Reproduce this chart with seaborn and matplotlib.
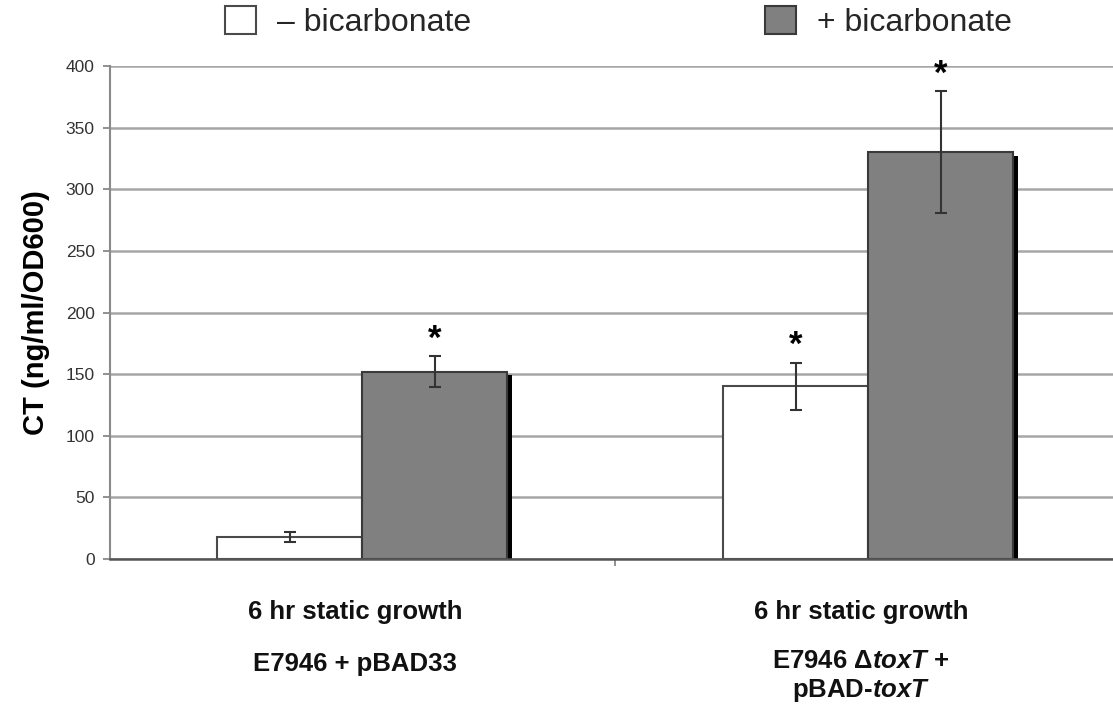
import numpy as np
import pandas as pd
import matplotlib
matplotlib.use("Agg")
import matplotlib.pyplot as plt
from matplotlib.patches import Rectangle, Patch
from matplotlib.transforms import ScaledTranslation, blended_transform_factory
import seaborn as sns

# ---- data -------------------------------------------------------------
strains = ["E7946 + pBAD33", "E7946 dtoxT + pBAD-toxT"]
conditions = ["– bicarbonate", "+ bicarbonate"]
ct_minus = [18, 140]          # CT, no bicarbonate
ct_plus = [152, 330]          # CT, with bicarbonate
err_minus = [4, 19]
err_plus = [12.5, 49.5]
signif_minus = [False, True]
signif_plus = [True, True]
growth_label = "6 hr static growth"
strain_labels = ["E7946 + pBAD33",
                 "E7946 $\\Delta\\mathit{toxT}$ +\npBAD-$\\mathit{toxT}$"]
y_ticks = [0, 50, 100, 150, 200, 250, 300, 350, 400]

# ---- style ------------------------------------------------------------
sns.set_style("white")
plt.rcParams["font.family"] = ["Liberation Sans", "DejaVu Sans"]
plt.rcParams["mathtext.fontset"] = "custom"
plt.rcParams["mathtext.rm"] = "Liberation Sans:bold"
plt.rcParams["mathtext.bf"] = "Liberation Sans:bold"
plt.rcParams["mathtext.it"] = "Liberation Sans:bold:italic"

W, H = 1113, 706
fig = plt.figure(figsize=(W / 100, H / 100), dpi=100)
fig.patch.set_facecolor("white")
ax = fig.add_axes([110 / W, 1 - 559 / H, (W - 110) / W, (559 - 66) / H])

df = pd.DataFrame({
    "strain": strains * 2,
    "condition": [conditions[0]] * 2 + [conditions[1]] * 2,
    "ct": ct_minus + ct_plus,
})

sns.barplot(data=df, x="strain", y="ct", hue="condition",
            order=strains, hue_order=conditions,
            palette=["#ffffff", "#808080"], saturation=1,
            width=0.573, errorbar=None, legend=False, ax=ax, zorder=3)

edge_cols = ["#4a4a4a", "#3a3a3a"]
shadow_shift = ScaledTranslation(0.05, -0.035, fig.dpi_scale_trans)
for cont, ec in zip(ax.containers, edge_cols):
    for bar in cont:
        bar.set_edgecolor(ec)
        bar.set_linewidth(1.5)
        sh = Rectangle((bar.get_x(), bar.get_y()), bar.get_width(), bar.get_height(),
                       facecolor="black", edgecolor="none",
                       transform=ax.transData + shadow_shift, zorder=2)
        ax.add_patch(sh)

# error bars and significance marks
for cont, vals, errs, sig in zip(ax.containers,
                                 [ct_minus, ct_plus],
                                 [err_minus, err_plus],
                                 [signif_minus, signif_plus]):
    xs = [b.get_x() + b.get_width() / 2 for b in cont]
    ax.errorbar(xs, vals, yerr=errs, fmt="none", ecolor="#333333",
                elinewidth=1.5, capsize=4.5, capthick=1.5, zorder=5)
    for x, v, e, s in zip(xs, vals, errs, sig):
        if s:
            ax.annotate("*", (x, v + e), xytext=(0, 0.5), textcoords="offset points",
                        ha="center", va="bottom", fontsize=25, fontweight="bold",
                        color="black", zorder=6)

# axes
ax.set_ylim(0, 400)
ax.set_xlim(-0.498, 1.484)
ax.set_yticks(y_ticks)
ax.set_yticklabels([str(t) for t in y_ticks], fontsize=12.5, color="#333333")
ax.tick_params(axis="y", which="major", left=True, length=5, width=1.3,
               color="#888888", pad=6)
ax.set_xticks([0, 1])
ax.set_xticklabels([])
ax.tick_params(axis="x", which="major", length=0)
ax.set_xticks([0.5], minor=True)
ax.tick_params(axis="x", which="minor", bottom=True, length=5, width=1.3,
               color="#888888")
ax.set_xlabel("")
ax.set_ylabel("CT (ng/ml/OD600)", fontsize=21, fontweight="bold",
              color="black", labelpad=11)

ax.yaxis.grid(True, color="#a6a6a6", linewidth=1.8)
ax.xaxis.grid(False)
ax.set_axisbelow(True)
for side in ["top", "right"]:
    ax.spines[side].set_visible(False)
ax.spines["left"].set_color("#8a8a8a")
ax.spines["left"].set_linewidth(1.5)
ax.spines["bottom"].set_color("#555555")
ax.spines["bottom"].set_linewidth(1.8)
ax.spines["bottom"].set_zorder(4)

# category labels below the axis
tr = blended_transform_factory(ax.transData, fig.transFigure) + \
    ScaledTranslation(-0.07, 0, fig.dpi_scale_trans)
for i, lab in enumerate(strain_labels):
    ax.text(i, 1 - 611.5 / H, growth_label, transform=tr, ha="center", va="center",
            fontsize=18.5, fontweight="bold", color="#111111")
    y2 = 664 if "\n" not in lab else 676
    ax.text(i, 1 - y2 / H, lab, transform=tr, ha="center", va="center",
            fontsize=18.5, fontweight="bold", color="#111111", linespacing=1.2)

# legend
handles = [Patch(facecolor="#ffffff", edgecolor="#4a4a4a", linewidth=1.5),
           Patch(facecolor="#808080", edgecolor="#3a3a3a", linewidth=1.5)]
ax.legend(handles, conditions, ncol=2, loc="upper left",
          bbox_to_anchor=(225 / W, 1 - 6 / H), bbox_transform=fig.transFigure,
          frameon=False, fontsize=23, borderpad=0, borderaxespad=0,
          handlelength=0.97, handleheight=0.95, handletextpad=0.65,
          columnspacing=9.2)

fig.savefig("out.png", dpi=100, facecolor="white")
